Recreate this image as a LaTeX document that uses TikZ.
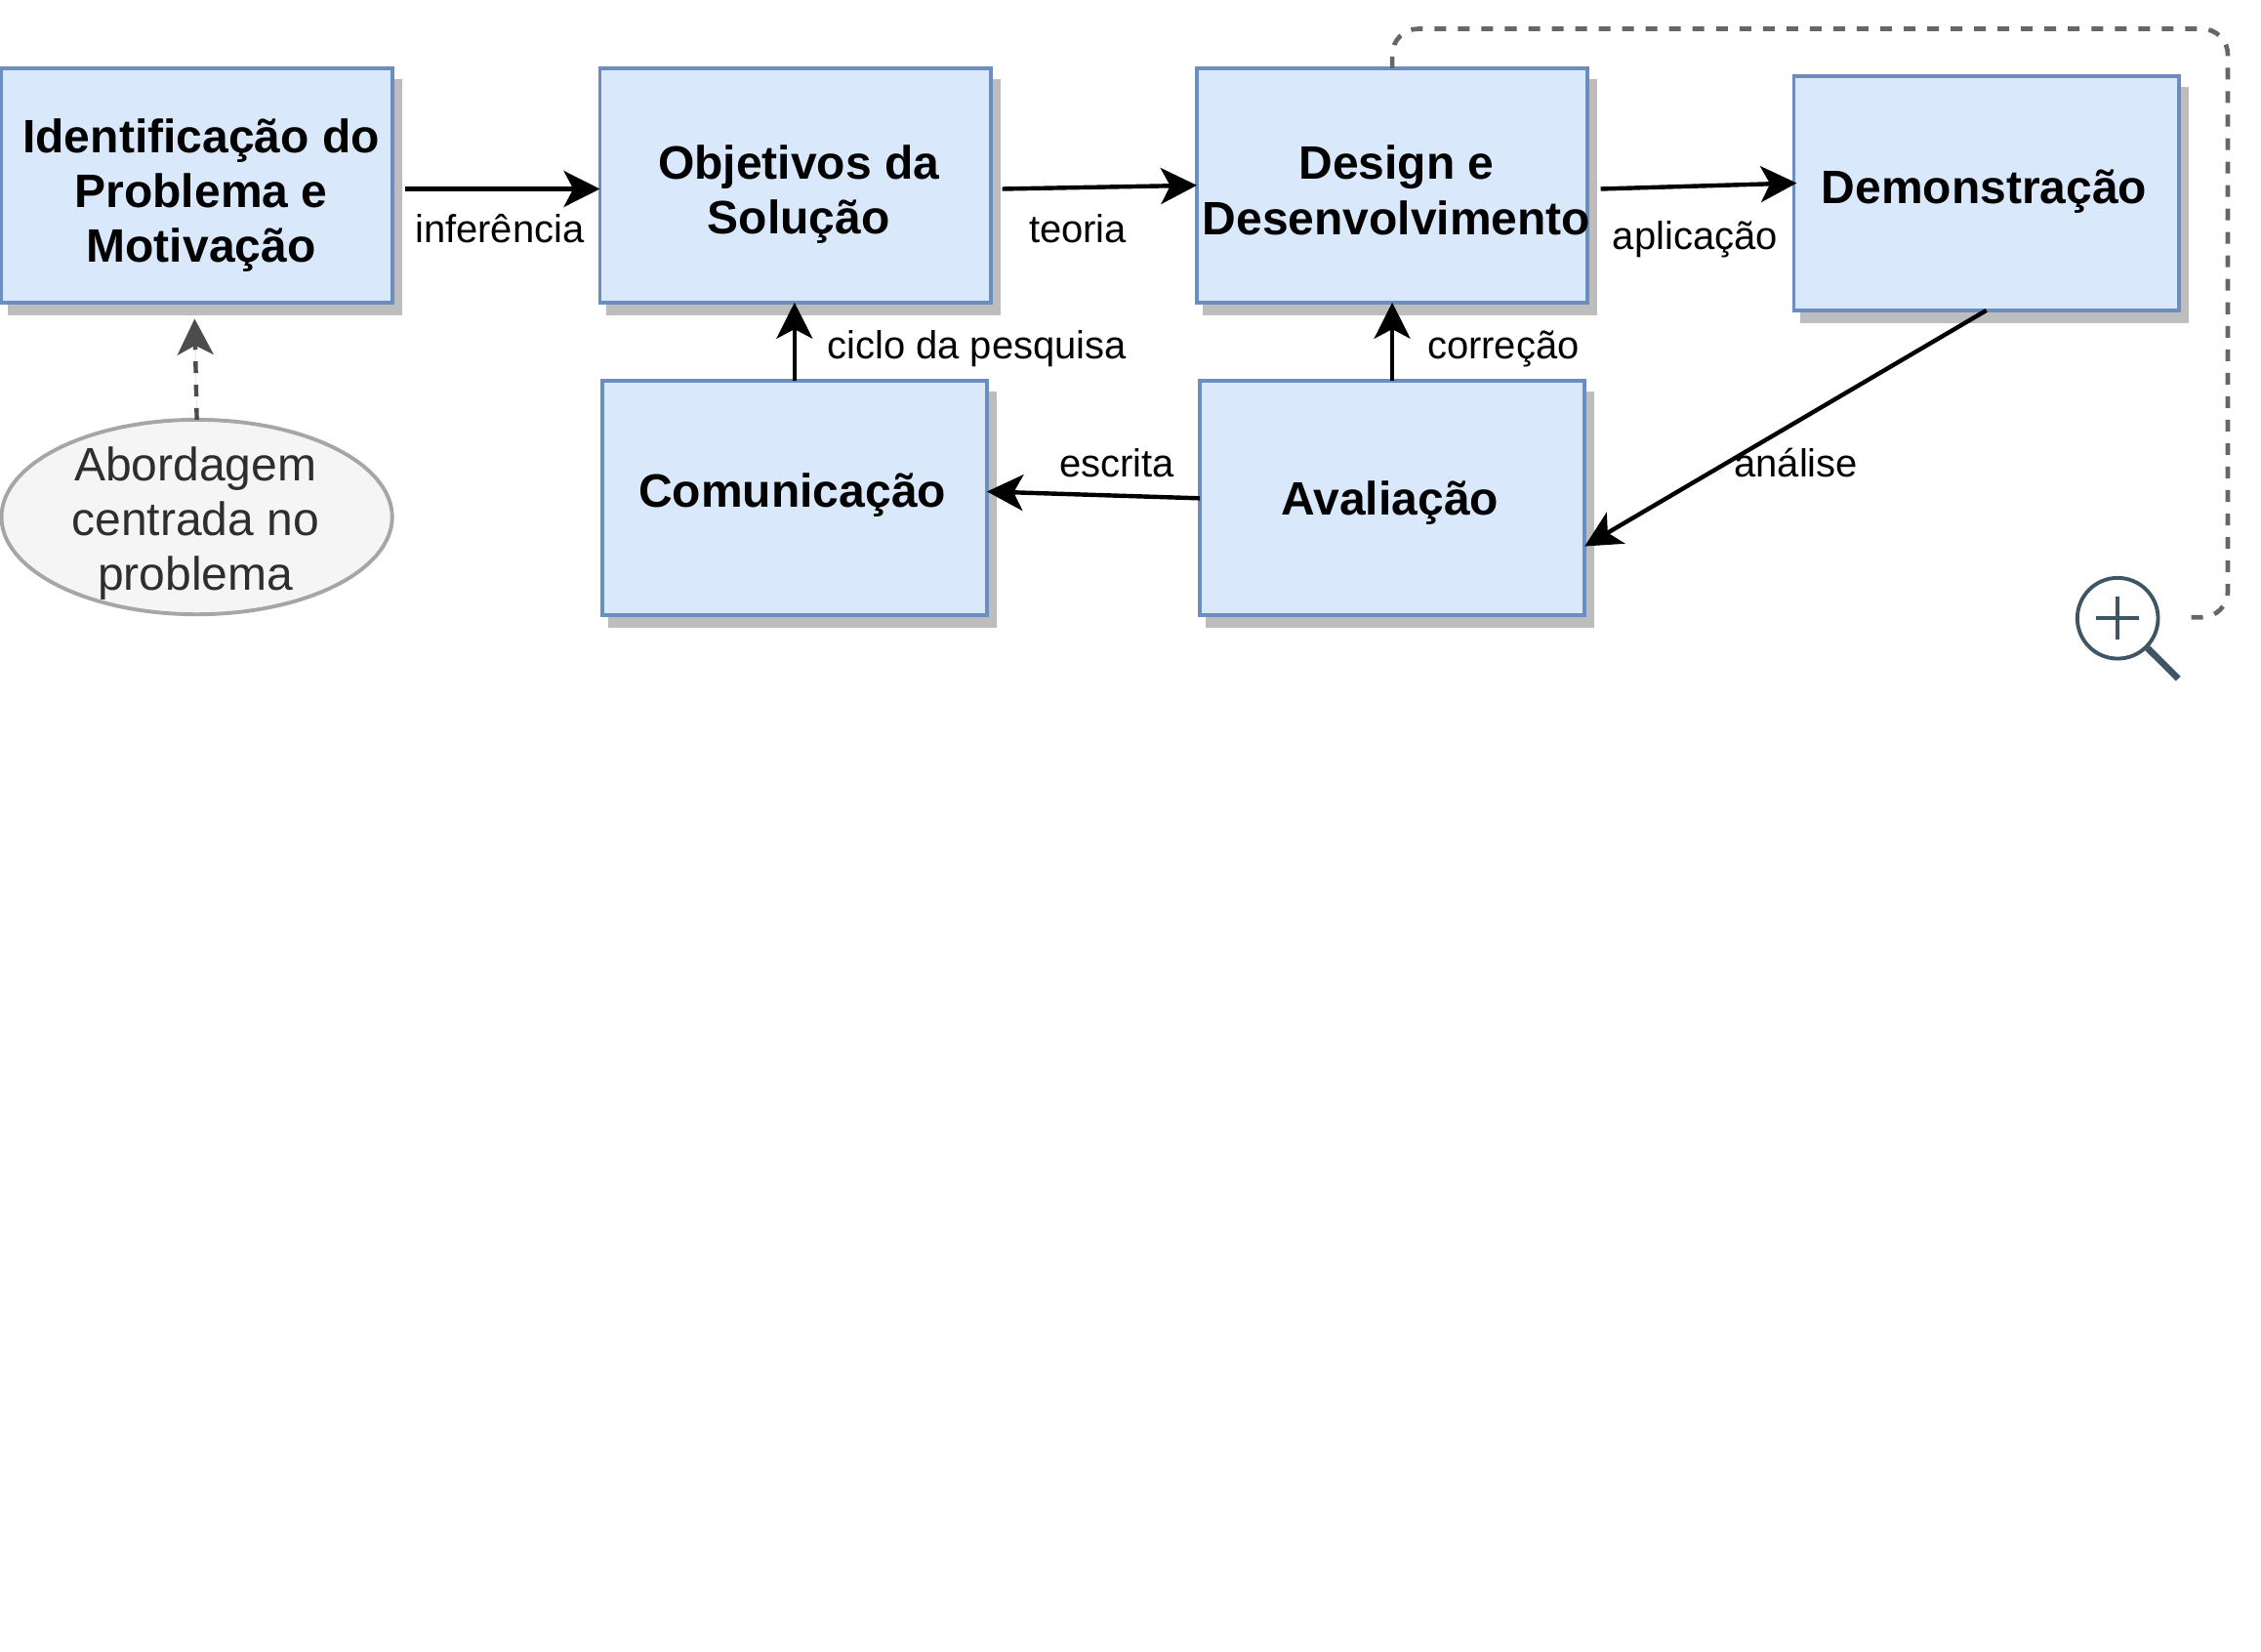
\documentclass[tikz,border=0pt]{standalone}
\usepackage{fontspec}
\usepackage{xcolor}
\usetikzlibrary{shadows, shapes.geometric, arrows.meta}
\setmainfont{Liberation Sans}

\definecolor{boxfill}{HTML}{DAE8FC}
\definecolor{boxline}{HTML}{6C8EBF}
\definecolor{shadowgray}{HTML}{BDBDBD}
\definecolor{iconblue}{HTML}{3F5563}

\tikzset{
    stepbox/.style={draw=boxline, fill=boxfill, line width=1.5pt, minimum width=#1, minimum height=3.25cm,
        inner sep=0pt, outer sep=0pt,
        drop shadow={shadow xshift=0.11cm, shadow yshift=-0.16cm, shadow scale=1.01, fill=shadowgray, opacity=1}},
    boxtext/.style={inner sep=0pt, align=center, font=\fontsize{18.5}{21.7}\selectfont\bfseries},
    approach/.style={draw=black!35, fill=black!4, line width=1.5pt, ellipse, minimum width=5.42cm,
        minimum height=2.7cm, inner sep=0pt, outer sep=0pt},
    approachtext/.style={inner sep=0pt, align=center, text=black!82, font=\fontsize{18.5}{21.7}\selectfont},
    link/.style={-{Stealth[length=0.5cm, width=0.5cm, inset=0.13cm]}, line width=1.7pt},
    loopline/.style={dash pattern=on 4.63pt off 4.63pt, draw=black!60, line width=1.8pt, rounded corners=0.36cm},
    steplabel/.style={font=\fontsize{15.4}{19}\selectfont},
}

\begin{document}
\begin{tikzpicture}[x=0.02cm, y=-0.02cm]
    \useasboundingbox (0, 0) rectangle (1568, 1145.5);

    \node[stepbox=5.42cm, label={[boxtext, xshift=0.06cm, yshift=-0.14cm]center:Identificação do\\Problema e\\Motivação}] at (136.5, 128.5) (ident) {};
    \node[stepbox=5.42cm, label={[boxtext, xshift=0.05cm, yshift=-0.13cm]center:Objetivos da\\Solução}] at (551.5, 128.5) (obj) {};
    \node[stepbox=5.42cm, label={[boxtext, xshift=0.06cm, yshift=-0.07cm]center:Design e\\Desenvolvimento}] at (965.5, 128.5) (design) {};
    \node[stepbox=5.34cm, label={[boxtext, xshift=-0.03cm, yshift=0.02cm]center:Demonstração}] at (1377.5, 134) (demo) {};
    \node[stepbox=5.34cm, label={[boxtext, xshift=-0.03cm, yshift=0.04cm]center:Comunicação}] at (551, 345.5) (com) {};
    \node[stepbox=5.34cm, label={[boxtext, xshift=-0.03cm, yshift=-0.06cm]center:Avaliação}] at (965.5, 345.5) (aval) {};
    \node[approach, label={[approachtext, xshift=-0.02cm, yshift=-0.09cm]center:Abordagem\\centrada no\\problema}] at (136.5, 358.5) (abord) {};

    \coordinate (identout) at (281, 131);
    \coordinate (objout) at (695, 131);
    \coordinate (designout) at (1110, 131);
    \coordinate (abordtip) at (135, 221);
    \coordinate (loopcorner) at (1545, 20);
    \coordinate (loopend) at (1515, 428);

    \draw[link] (identout) -- (identout -| obj.west);
    \draw[link] (objout) -- (design.west);
    \draw[link, shorten >=-0.04cm] (designout) -- (demo.177);
    \draw[link] (demo.south) -- (aval.-14);
    \draw[link] (aval.west) -- (com.2);
    \draw[link] (aval.north) -- (design.south);
    \draw[link] (com.north) -- (com.north |- obj.south);
    \draw[link, dash pattern=on 4.6pt off 4.6pt, draw=black!70, fill=black!70] (abord.north) -- (abordtip);
    \draw[loopline] (design.north) |- (loopcorner) -- (loopcorner |- loopend) -- (loopend);

    \node[steplabel] at (346.5, 158.5) (inf) {inferência};
    \node[steplabel] at (747.5, 158.5) (teo) {teoria};
    \node[steplabel] at (1175.5, 166) (apl) {aplicação};
    \node[steplabel] at (677.5, 242) (ciclo) {ciclo da pesquisa};
    \node[steplabel] at (1042.5, 242) (corr) {correção};
    \node[steplabel] at (774.5, 321) (esc) {escrita};
    \node[steplabel] at (1245.5, 321) (ana) {análise};

    % lens
    \node[draw=iconblue, circle, line width=1.5pt, minimum size=1.12cm, inner sep=0pt] at (1468.6, 428.7) (lens) {};
    \coordinate (handle) at (1510.6, 470.6);
    \draw[draw=iconblue, line width=2.6pt] (lens.-45) -- (handle);
    \draw[draw=iconblue, line width=1.4pt] ([xshift=0.3cm]lens.center) -- ([xshift=-0.3cm]lens.center);
    \draw[draw=iconblue, line width=1.4pt] ([yshift=0.3cm]lens.center) -- ([yshift=-0.3cm]lens.center);
\end{tikzpicture}
\end{document}
